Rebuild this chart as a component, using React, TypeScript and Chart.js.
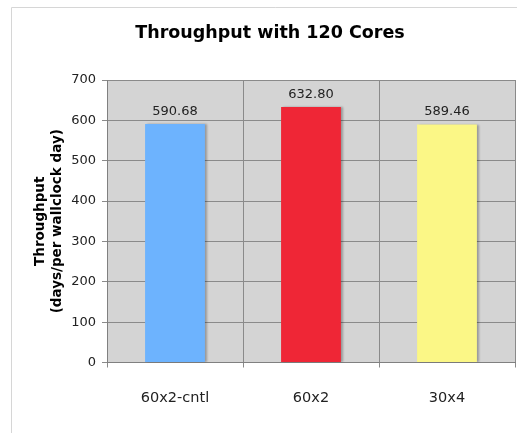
import React, { useEffect, useRef } from "react";
import { Chart, registerables } from "chart.js";

Chart.register(...registerables);

const chartTitle = "Throughput with 120 Cores";
const axisTitle = ["Throughput", "(days/per wallclock day)"];
const categories = ["60x2-cntl", "60x2", "30x4"];
const throughput = [590.68, 632.8, 589.46];
const barColors = ["#6db3fe", "#ef2636", "#fbf786"];
const yMin = 0;
const yMax = 700;
const yStep = 100;

const FONT = "'DejaVu Sans', Verdana, sans-serif";

const framePlugin = {
  id: "frame",
  beforeDraw(chart: any) {
    const { ctx, chartArea, width, height } = chart;
    ctx.save();
    ctx.fillStyle = "#ffffff";
    ctx.fillRect(0, 0, width, height);
    ctx.strokeStyle = "#d6d6d6";
    ctx.lineWidth = 1;
    ctx.beginPath();
    ctx.moveTo(11.5, height);
    ctx.lineTo(11.5, 7.5);
    ctx.lineTo(width, 7.5);
    ctx.stroke();
    ctx.fillStyle = "#d4d4d4";
    ctx.fillRect(
      chartArea.left,
      chartArea.top,
      chartArea.right - chartArea.left,
      chartArea.bottom - chartArea.top
    );
    ctx.restore();
  },
  beforeDatasetsDraw(chart: any) {
    const ctx = chart.ctx;
    ctx.save();
    ctx.shadowColor = "rgba(0,0,0,0.28)";
    ctx.shadowOffsetX = 2;
    ctx.shadowOffsetY = 0;
    ctx.shadowBlur = 2;
  },
  afterDatasetsDraw(chart: any) {
    const ctx = chart.ctx;
    ctx.restore();
    ctx.save();
    ctx.font = `13px ${FONT}`;
    ctx.fillStyle = "#222222";
    ctx.textAlign = "center";
    ctx.textBaseline = "middle";
    const meta = chart.getDatasetMeta(0);
    meta.data.forEach((bar: any, i: number) => {
      const v = chart.data.datasets[0].data[i] as number;
      ctx.fillText(v.toFixed(2), bar.x, bar.y - 12.5);
    });
    ctx.restore();
  },
};

export default function App() {
  const canvasRef = useRef<HTMLCanvasElement | null>(null);

  useEffect(() => {
    if (!canvasRef.current) return;
    const chart = new Chart(canvasRef.current, {
      type: "bar",
      data: {
        labels: categories,
        datasets: [
          {
            data: throughput,
            backgroundColor: barColors,
            borderWidth: 0,
            categoryPercentage: 1,
            barPercentage: 0.44,
          },
        ],
      },
      options: {
        responsive: false,
        animation: false,
        devicePixelRatio: 1,
        layout: { padding: { left: 25, right: 25, top: 0, bottom: 0 } },
        plugins: {
          legend: { display: false },
          tooltip: { enabled: false },
          title: {
            display: true,
            text: chartTitle,
            color: "#000000",
            font: { family: FONT, size: 17.5, weight: "bold", lineHeight: 1.2 },
            padding: { top: 22.5, bottom: 36.5 },
          },
        },
        scales: {
          x: {
            offset: true,
            grid: {
              offset: true,
              color: "#8a8a8a",
              lineWidth: 1,
              tickLength: 5,
            },
            border: { color: "#808080", width: 1 },
            ticks: {
              color: "#222222",
              font: { family: FONT, size: 14.5 },
              padding: 22,
            },
            afterFit(scale: any) {
              scale.height = 70.5;
            },
          },
          y: {
            min: yMin,
            max: yMax,
            grid: { color: "#8a8a8a", lineWidth: 1, tickLength: 5 },
            border: { color: "#808080", width: 1 },
            ticks: {
              stepSize: yStep,
              color: "#222222",
              font: { family: FONT, size: 13 },
              padding: 6,
            },
            title: {
              display: true,
              text: axisTitle,
              color: "#000000",
              font: { family: FONT, size: 13.5, weight: "bold", lineHeight: 1.26 },
              padding: { top: 6.5, bottom: 0 },
            },
            afterFit(scale: any) {
              scale.width = 82;
            },
          },
        },
      },
      plugins: [framePlugin],
    });
    return () => chart.destroy();
  }, []);

  return (
    <div
      style={{
        position: "absolute",
        left: 0,
        top: 0,
        width: 517,
        height: 433,
        overflow: "hidden",
        background: "#ffffff",
      }}
    >
      <canvas
        ref={canvasRef}
        width={540}
        height={433}
        style={{ width: 540, height: 433, display: "block" }}
      />
    </div>
  );
}
